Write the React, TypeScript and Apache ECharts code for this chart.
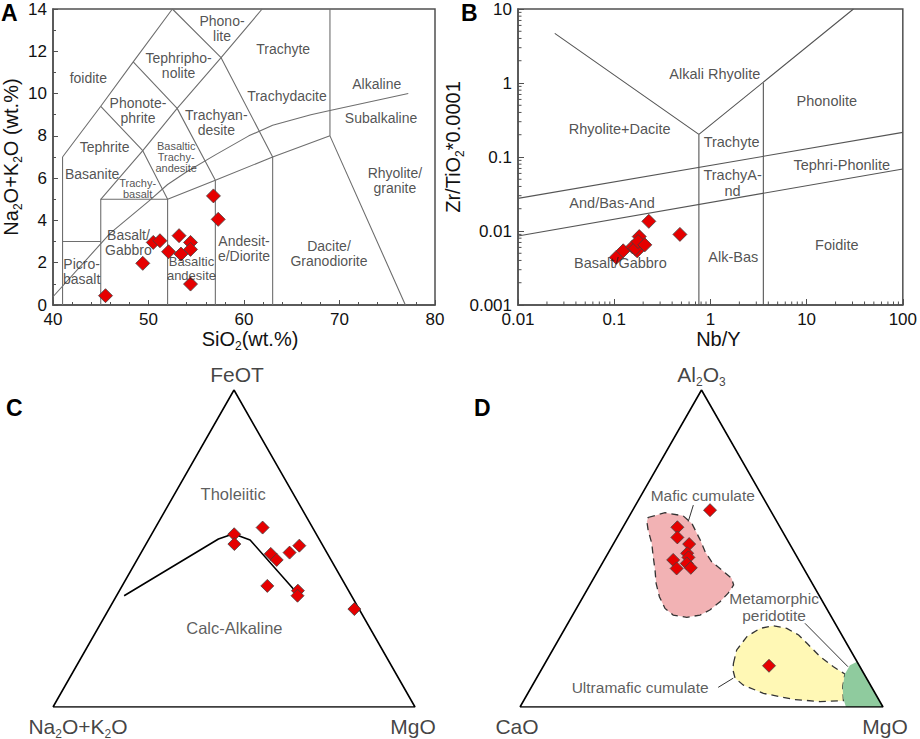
import React, { useEffect, useRef } from 'react';
import * as echarts from 'echarts';

const FONT = '"Liberation Sans", Arial, Helvetica, sans-serif';

// ---------- Panel A: TAS ----------
const TAS_SIO2 = [45.5, 49.4, 50.5, 51.2, 52.1, 53.2, 53.4, 54.4, 54.4, 54.4, 56.8, 57.3];
const TAS_ALK = [0.44, 1.97, 2.96, 3.04, 2.52, 3.28, 2.41, 2.96, 2.63, 0.99, 5.16, 4.05];
const TAS_X_TICKS = [40, 50, 60, 70, 80];
const TAS_Y_TICKS = [0, 2, 4, 6, 8, 10, 12, 14];

const TAS_FIELD_LINES: number[][][] = [
  [[41, 0], [41, 7]],
  [[41, 3], [45, 3]],
  [[45, 0], [45, 5], [52, 5], [52, 0]],
  [[57, 0], [57, 5.9]],
  [[63, 0], [63, 7]],
  [[52, 5], [57, 5.9], [63, 7], [69, 8], [76.9, 0]],
  [[69, 8], [69, 14]],
  [[41, 7], [45, 9.4], [48.4, 11.5], [52.5, 14]],
  [[45, 5], [49.4, 7.3], [53, 9.3], [57.6, 11.7], [61.9, 14]],
  [[45, 9.4], [49.4, 7.3], [52, 5]],
  [[48.4, 11.5], [53, 9.3], [57, 5.9]],
  [[52.5, 14], [57.6, 11.7], [63, 7]],
];
const TAS_IRVINE = [[40, 0.39], [46, 3.4], [50, 4.9], [52, 5.7], [54, 6.3], [57, 7.1], [60.5, 8.0], [63, 8.5], [67, 9.0], [69, 9.2], [77.2, 10.0]];

const TAS_LABELS = [
  { t: 'Phono-\nlite', x: 57.7, y: 13.1 },
  { t: 'Trachyte', x: 64.1, y: 12.1 },
  { t: 'Tephripho-\nnolite', x: 53.15, y: 11.31 },
  { t: 'foidite', x: 43.7, y: 10.72 },
  { t: 'Alkaline', x: 73.9, y: 10.45 },
  { t: 'Trachydacite', x: 64.5, y: 9.9 },
  { t: 'Phonote-\nphrite', x: 48.9, y: 9.22 },
  { t: 'Subalkaline', x: 74.35, y: 8.83 },
  { t: 'Trachyan-\ndesite', x: 57.1, y: 8.63 },
  { t: 'Tephrite', x: 45.4, y: 7.49 },
  { t: 'Basanite', x: 44.1, y: 6.2 },
  { t: 'Rhyolite/\ngranite', x: 75.8, y: 5.89 },
  { t: 'Andesit-\ne/Diorite', x: 60.0, y: 2.68 },
  { t: 'Basalt/\nGabbro', x: 47.9, y: 2.97 },
  { t: 'Dacite/\nGranodiorite', x: 68.9, y: 2.45 },
  { t: 'Picro-\nbasalt', x: 43.0, y: 1.59 },
];
const TAS_MID_LABELS = [{ t: 'Basaltic\nandesite', x: 54.5, y: 1.75 }];
const TAS_SMALL_LABELS = [
  { t: 'Basaltic\nTrachy-\nandesite', x: 52.9, y: 6.98 },
  { t: 'Trachy-\nbasalt', x: 48.86, y: 5.53 },
];

// ---------- Panel B: Zr/TiO2 vs Nb/Y ----------
const NB_Y = [0.105, 0.124, 0.155, 0.173, 0.165, 0.182, 0.177, 0.208, 0.229, 0.482];
const ZR_TIO2 = [0.0044, 0.0054, 0.0061, 0.0054, 0.0058, 0.0084, 0.0072, 0.0065, 0.0135, 0.009];
const WF_LINES: number[][][] = [
  [[0.0241, 4.69], [0.759, 0.202], [30.7, 10]],
  [[0.759, 0.202], [0.759, 0.001]],
  [[3.55, 1.0], [3.55, 0.001]],
  [[0.01, 0.0276], [100, 0.215]],
  [[0.01, 0.00855], [100, 0.0689]],
];
const WF_LABELS = [
  { t: 'Alkali Rhyolite', x: 1.11, y: 1.32 },
  { t: 'Phonolite', x: 16.2, y: 0.577 },
  { t: 'Rhyolite+Dacite', x: 0.114, y: 0.237 },
  { t: 'Trachyte', x: 1.66, y: 0.158 },
  { t: 'Tephri-Phonlite', x: 23.2, y: 0.078 },
  { t: 'TrachyA-\nnd', x: 1.7, y: 0.045 },
  { t: 'And/Bas-And', x: 0.095, y: 0.0241 },
  { t: 'Foidite', x: 20.6, y: 0.00645 },
  { t: 'Alk-Bas', x: 1.73, y: 0.0045 },
  { t: 'Basalt/Gabbro', x: 0.116, y: 0.00366 },
];
const LOG_MINOR = [2, 3, 4, 5, 6, 7, 8, 9];
const X_DECADES = [0.01, 0.1, 1, 10];
const Y_DECADES = [0.001, 0.01, 0.1, 1];

// ---------- Panel C: AFM  [Na2O+K2O, FeOT, MgO] ----------
const AFM_SAMPLES = [
  [22.7, 54.5, 22.8], [24.2, 51.4, 24.4], [13.8, 56.6, 29.6], [15.7, 48.3, 36.0],
  [15.0, 46.4, 38.6], [10.3, 48.7, 41.0], [6.5, 50.9, 42.6], [21.7, 38.2, 40.1],
  [14.0, 36.7, 49.3], [14.9, 35.1, 50.0], [1.3, 30.9, 67.8],
];
const AFM_DIVIDE = [[62.8, 35.1, 2.1], [27.8, 53.0, 19.2], [23.0, 54.6, 22.4], [21.4, 53.9, 24.7], [19.2, 52.7, 28.1], [14.7, 36.3, 49.0]];
const AFM_LABELS = [
  { t: 'Tholeiitic', f: 67.3, m: 16.1 },
  { t: 'Calc-Alkaline', f: 24.8, m: 37.7 },
];

// ---------- Panel D: CaO-Al2O3-MgO  [CaO, Al2O3, MgO] ----------
const ACM_SAMPLES = [
  [16.6, 62.1, 21.3], [28.3, 56.7, 15.0], [29.9, 53.5, 16.6], [27.7, 51.4, 20.9],
  [29.7, 48.5, 21.8], [30.0, 47.2, 22.8], [34.6, 46.4, 19.0], [31.4, 45.3, 23.3],
  [35.0, 43.7, 21.3], [31.0, 43.9, 25.1], [24.9, 13.0, 62.1],
];
// fields as [Al2O3 %, MgO %]
const MAFIC_FIELD = [[59.8, 5.4], [61.3, 9.3], [60.3, 14.8], [57.9, 18.4], [52.7, 23.3], [49.0, 26.5], [45.8, 29.9], [43.2, 34.0], [40.6, 38.0], [38.5, 39.6], [35.9, 39.4], [33.2, 38.5], [30.6, 37.0], [29.0, 35.1], [28.3, 31.8], [29.0, 27.7], [31.1, 24.4], [34.8, 21.0], [39.0, 18.0], [43.2, 15.6], [47.4, 13.0], [51.6, 10.5], [55.8, 7.4], [58.5, 5.7]];
const ULTRAMAFIC_FIELD = [[13.8, 51.9], [18.0, 50.7], [22.2, 51.4], [24.8, 53.7], [25.6, 57.0], [24.8, 61.1], [22.7, 65.4], [20.1, 69.0], [15.9, 74.7], [12.7, 80.0], [10.4, 84.3], [6.4, 85.7], [2.0, 88.1], [1.7, 81.8], [2.4, 74.1], [4.3, 64.9], [6.9, 58.1], [9.1, 54.7], [11.7, 52.8]];
const PERIDOTITE_FIELD = [[14.3, 85.7], [13.2, 84.3], [10.4, 84.3], [6.4, 85.7], [2.7, 87.7], [0, 89.8], [0, 100]];
const ACM_LEADERS = [
  [[63.7, 15.9], [58.5, 17.1]],
  [[26.4, 65.3], [12.7, 84.0]],
  [[6.2, 51.5], [9.1, 54.2]],
];
const ACM_LABELS = [
  { t: 'Mafic cumulate', a: 66.7, m: 17.0 },
  { t: 'Metamorphic\nperidotite', a: 31.6, m: 54.2 },
  { t: 'Ultramafic cumulate', a: 6.2, m: 30.0 },
];

// ternary helpers: top fraction t, right fraction r -> cartesian in [0,1]x[0,1]
const tern = (top: number, right: number, left: number) => {
  const s = top + right + left;
  const t = top / s;
  const r = right / s;
  return [r + t / 2, t];
};
const afmXY = (p: number[]) => tern(p[1], p[2], p[0]);
const acmXY = (p: number[]) => tern(p[1], p[2], p[0]);
const fieldXY = (p: number[]) => tern(p[0], p[1], 100 - p[0] - p[1]);
const TRIANGLE = [tern(0, 0, 100), tern(0, 100, 0), tern(100, 0, 0), tern(0, 0, 100)];

const RED = '#e60000';
const AXIS_C = '#505050';
const LABEL_C = '#262626';

function lineSeries(g: number, pts: number[][], color: string, width: number, z = 2) {
  return {
    type: 'line', xAxisIndex: g, yAxisIndex: g, data: pts, symbol: 'none', silent: true, z,
    lineStyle: { color, width }, animation: false,
  };
}
function labelSeries(g: number, items: { name: string; value: number[] }[], fontSize: number, color: string, lh?: number) {
  return {
    type: 'scatter', xAxisIndex: g, yAxisIndex: g, symbolSize: 1, silent: true, z: 6,
    itemStyle: { color: 'rgba(0,0,0,0)' },
    label: { show: true, position: 'inside', formatter: (p: any) => p.name, fontSize, color, fontFamily: FONT, lineHeight: lh || fontSize + 1 },
    data: items,
  };
}
function pointSeries(g: number, data: number[][], size: number) {
  return {
    type: 'scatter', xAxisIndex: g, yAxisIndex: g, symbol: 'diamond', symbolSize: size, z: 5, data,
    itemStyle: { color: RED, opacity: 1, borderColor: '#404040', borderWidth: 0.8 },
  };
}
function polySeries(g: number, pts: number[][], fill: string, stroke: string | null, dash: boolean) {
  return {
    type: 'custom', xAxisIndex: g, yAxisIndex: g, silent: true, z: 1, clip: false, data: [[0.5, 0.5]],
    renderItem: (_p: any, api: any) => ({
      type: 'polygon',
      shape: { points: pts.map((q) => api.coord(q)) },
      style: { fill, stroke: stroke || 'none', lineWidth: 1.3, lineDash: dash ? [7, 5] : null },
    }),
  };
}

const richAxis = {
  n: { fontSize: 20, fontFamily: FONT, color: '#111', lineHeight: 26 },
  s: { fontSize: 12, fontFamily: FONT, color: '#111', lineHeight: 12, verticalAlign: 'bottom' },
};
const richCorner = {
  n: { fontSize: 21, fontFamily: FONT, color: '#111', lineHeight: 26 },
  s: { fontSize: 12, fontFamily: FONT, color: '#111', lineHeight: 12, verticalAlign: 'bottom' },
};

function linearAxis(g: number, min: number, max: number, interval: number, minorSplit: number, name: string, gap: number, extra: any = {}) {
  return {
    gridIndex: g, type: 'value', min, max, interval,
    axisLine: { show: true, lineStyle: { color: AXIS_C, width: 1.5 } },
    axisTick: { show: true, inside: true, length: 5, lineStyle: { color: AXIS_C, width: 1 } },
    minorTick: { show: true, splitNumber: minorSplit, length: 3, lineStyle: { color: AXIS_C, width: 1 } },
    splitLine: { show: false },
    axisLabel: { color: '#111', fontSize: 17, fontFamily: FONT, margin: 6 },
    name, nameLocation: 'middle', nameGap: gap,
    nameTextStyle: { rich: richAxis },
    ...extra,
  };
}
function logAxis(g: number, min: number, max: number, name: string, gap: number, extra: any = {}) {
  return {
    gridIndex: g, type: 'log', logBase: 10, min, max,
    axisLine: { show: true, lineStyle: { color: AXIS_C, width: 1.5 } },
    axisTick: { show: true, inside: true, length: 6, lineStyle: { color: AXIS_C, width: 1 } },
    splitLine: { show: false },
    axisLabel: { color: '#111', fontSize: 17, fontFamily: FONT, margin: 6, formatter: (v: number) => String(v) },
    name, nameLocation: 'middle', nameGap: gap,
    nameTextStyle: { rich: richAxis },
    ...extra,
  };
}
function hiddenAxis(g: number) {
  return { gridIndex: g, type: 'value', min: 0, max: 1, show: false };
}

export default function App() {
  const ref = useRef<HTMLDivElement>(null);
  useEffect(() => {
    document.body.style.margin = '0';
    const chart = echarts.init(ref.current as HTMLDivElement, null as any, { renderer: 'svg' });

    const minorTicksSeries = {
      type: 'custom', xAxisIndex: 1, yAxisIndex: 1, silent: true, z: 3, clip: false, data: [[1, 0.1]],
      renderItem: (_p: any, api: any) => {
        const children: any[] = [];
        X_DECADES.forEach((d) => LOG_MINOR.forEach((m) => {
          const p = api.coord([m * d, 0.001]);
          children.push({ type: 'line', shape: { x1: p[0], y1: p[1], x2: p[0], y2: p[1] - 3.5 }, style: { stroke: AXIS_C, lineWidth: 1 } });
        }));
        Y_DECADES.forEach((d) => LOG_MINOR.forEach((m) => {
          const p = api.coord([0.01, m * d]);
          children.push({ type: 'line', shape: { x1: p[0], y1: p[1], x2: p[0] + 3.5, y2: p[1] }, style: { stroke: AXIS_C, lineWidth: 1 } });
        }));
        return { type: 'group', children };
      },
    };

    const series: any[] = [];
    // A
    TAS_FIELD_LINES.forEach((l) => series.push(lineSeries(0, l, '#6e6e6e', 1.1)));
    series.push(lineSeries(0, TAS_IRVINE, '#6e6e6e', 1.1));
    series.push(pointSeries(0, TAS_SIO2.map((x, i) => [x, TAS_ALK[i]]), 14));
    series.push(labelSeries(0, TAS_LABELS.map((d) => ({ name: d.t, value: [d.x, d.y] })), 14, LABEL_C, 15));
    series.push(labelSeries(0, TAS_MID_LABELS.map((d) => ({ name: d.t, value: [d.x, d.y] })), 13, LABEL_C, 14));
    series.push(labelSeries(0, TAS_SMALL_LABELS.map((d) => ({ name: d.t, value: [d.x, d.y] })), 11, LABEL_C, 11));
    // B
    WF_LINES.forEach((l) => series.push(lineSeries(1, l, '#555', 1.1)));
    series.push(minorTicksSeries);
    series.push(pointSeries(1, NB_Y.map((x, i) => [x, ZR_TIO2[i]]), 14));
    series.push(labelSeries(1, WF_LABELS.map((d) => ({ name: d.t, value: [d.x, d.y] })), 14.5, LABEL_C, 16));
    // C
    series.push(lineSeries(2, TRIANGLE, '#000', 1.6));
    series.push(lineSeries(2, AFM_DIVIDE.map(afmXY), '#000', 1.6));
    series.push(pointSeries(2, AFM_SAMPLES.map(afmXY), 13));
    series.push(labelSeries(2, AFM_LABELS.map((d) => ({ name: d.t, value: tern(d.f, d.m, 100 - d.f - d.m) })), 16.5, '#333'));
    series.push({
      type: 'scatter', xAxisIndex: 2, yAxisIndex: 2, symbolSize: 1, silent: true, z: 6,
      itemStyle: { color: 'rgba(0,0,0,0)' },
      data: [
        { value: tern(100, 0, 0), label: { show: true, position: 'top', distance: 2, formatter: '{n|FeOT}', rich: richCorner, offset: [3, 0] } },
        { value: tern(0, 0, 100), label: { show: true, position: 'bottom', distance: 6, formatter: '{n|Na}{s|2}{n|O+K}{s|2}{n|O}', rich: richCorner, offset: [25, 0] } },
        { value: tern(0, 100, 0), label: { show: true, position: 'bottom', distance: 6, formatter: '{n|MgO}', rich: richCorner, offset: [-2, 0] } },
      ],
    });
    // D
    series.push(polySeries(3, MAFIC_FIELD.map(fieldXY), '#f2b2b4', '#333', true));
    series.push(polySeries(3, ULTRAMAFIC_FIELD.map(fieldXY), '#fff8b5', '#333', true));
    series.push(polySeries(3, PERIDOTITE_FIELD.map(fieldXY), '#8fcb9e', null, false));
    ACM_LEADERS.forEach((l) => series.push(lineSeries(3, l.map(fieldXY), '#333', 1, 2)));
    series.push(lineSeries(3, TRIANGLE, '#000', 1.6, 3));
    series.push(pointSeries(3, ACM_SAMPLES.map(acmXY), 13));
    series.push(labelSeries(3, ACM_LABELS.map((d) => ({ name: d.t, value: tern(d.a, d.m, 100 - d.a - d.m) })), 15.5, '#333', 17));
    series.push({
      type: 'scatter', xAxisIndex: 3, yAxisIndex: 3, symbolSize: 1, silent: true, z: 6,
      itemStyle: { color: 'rgba(0,0,0,0)' },
      data: [
        { value: tern(100, 0, 0), label: { show: true, position: 'top', distance: 2, formatter: '{n|Al}{s|2}{n|O}{s|3}', rich: richCorner } },
        { value: tern(0, 0, 100), label: { show: true, position: 'bottom', distance: 6, formatter: '{n|CaO}', rich: richCorner, offset: [-3, 0] } },
        { value: tern(0, 100, 0), label: { show: true, position: 'bottom', distance: 6, formatter: '{n|MgO}', rich: richCorner, offset: [2, 0] } },
      ],
    });

    const option: any = {
      animation: false,
      backgroundColor: '#fff',
      textStyle: { fontFamily: FONT },
      grid: [
        { left: 53, top: 9, width: 382, height: 296, show: true, borderColor: AXIS_C, borderWidth: 1.5, backgroundColor: 'transparent' },
        { left: 518, top: 9, width: 385, height: 296, show: true, borderColor: AXIS_C, borderWidth: 1.5, backgroundColor: 'transparent' },
        { left: 53, top: 390, width: 362, height: 317 },
        { left: 520, top: 390, width: 363, height: 317 },
      ],
      xAxis: [
        linearAxis(0, TAS_X_TICKS[0], TAS_X_TICKS[TAS_X_TICKS.length - 1], 10, 5, '{n|SiO}{s|2}{n|(wt.%)}', 20, { nameTextStyle: { rich: richAxis, padding: [0, 0, 0, 12] } }),
        logAxis(1, 0.01, 100, '{n|Nb/Y}', 20, { nameTextStyle: { rich: richAxis, padding: [0, 0, 0, 16] } }),
        hiddenAxis(2),
        hiddenAxis(3),
      ],
      yAxis: [
        linearAxis(0, TAS_Y_TICKS[0], TAS_Y_TICKS[TAS_Y_TICKS.length - 1], 2, 2, '{n|Na}{s|2}{n|O+K}{s|2}{n|O (wt.%)}', 28),
        logAxis(1, 0.001, 10, '{n|Zr/TiO}{s|2}{n|*0.0001}', 38, { nameTextStyle: { rich: richAxis, padding: [0, 0, 0, 20] } }),
        hiddenAxis(2),
        hiddenAxis(3),
      ],
      graphic: [
        { type: 'text', left: 1, top: 1, style: { text: 'A', font: `bold 23px ${FONT}`, fill: '#000' } },
        { type: 'text', left: 461, top: 1, style: { text: 'B', font: `bold 23px ${FONT}`, fill: '#000' } },
        { type: 'text', left: 6, top: 396, style: { text: 'C', font: `bold 23px ${FONT}`, fill: '#000' } },
        { type: 'text', left: 474, top: 396, style: { text: 'D', font: `bold 23px ${FONT}`, fill: '#000' } },
      ],
      series,
    };
    chart.setOption(option);
    return () => chart.dispose();
  }, []);
  return <div ref={ref} style={{ width: 920, height: 739 }} />;
}
